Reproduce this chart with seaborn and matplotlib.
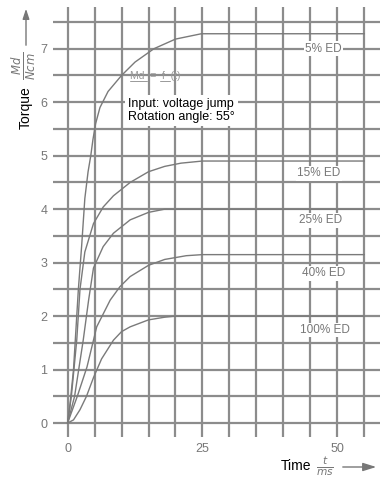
import numpy as np
import pandas as pd
import matplotlib
matplotlib.use("Agg")
import matplotlib.pyplot as plt
import seaborn as sns

# ---- data ----
series_labels = ["5% ED", "15% ED", "25% ED", "40% ED", "100% ED"]

t_5 = [0, 0.4, 1.1, 2.0, 2.6, 3.2, 3.8, 4.3, 4.7, 5.2, 6.0, 7.5, 10, 12.5, 16, 20, 24.8, 55]
y_5 = [0, 0.3, 1.0, 2.5, 3.3, 4.2, 4.7, 5.0, 5.3, 5.6, 5.9, 6.2, 6.5, 6.75, 7.0, 7.18, 7.28, 7.28]

t_15 = [0, 0.7, 1.7, 2.3, 3.2, 4.8, 6.6, 8.5, 11.6, 15, 18, 21, 25, 55]
y_15 = [0, 0.5, 1.55, 2.5, 3.2, 3.73, 4.04, 4.25, 4.5, 4.7, 4.8, 4.86, 4.9, 4.9]

t_25 = [0, 1.3, 2.9, 3.9, 4.8, 6.6, 8.5, 11.6, 15, 18, 55]
y_25 = [0, 0.5, 1.55, 2.3, 2.9, 3.3, 3.55, 3.8, 3.94, 4.0, 4.0]

t_40 = [0, 1.8, 3.6, 5.4, 7.9, 9.7, 11.6, 15, 18, 22, 25, 55]
y_40 = [0, 0.5, 1.05, 1.8, 2.3, 2.55, 2.74, 2.95, 3.06, 3.13, 3.15, 3.15]

t_100 = [0, 1.1, 2.3, 3.5, 4.8, 6.3, 8.5, 10, 11.6, 15, 18, 20, 55]
y_100 = [0, 0.06, 0.25, 0.5, 0.85, 1.2, 1.55, 1.71, 1.8, 1.93, 1.98, 2.0, 2.0]

label_pos_t = [47.4, 46.6, 46.9, 47.4, 47.7]
label_pos_y = [7.0, 4.67, 3.79, 2.8, 1.74]

x_tick_labels = {0: "0", 25: "25", 50: "50"}
y_tick_labels = [0, 1, 2, 3, 4, 5, 6, 7]

# ---- build long-form table ----
frames = []
for name, tt, yy in zip(series_labels, [t_5, t_15, t_25, t_40, t_100],
                        [y_5, y_15, y_25, y_40, y_100]):
    frames.append(pd.DataFrame({"t": tt, "torque": yy, "series": name}))
df = pd.concat(frames, ignore_index=True)

sns.set_theme(style="white")
plt.rcParams["font.family"] = ["Liberation Sans", "DejaVu Sans"]

W, H = 380, 480
fig = plt.figure(figsize=(W / 100, H / 100), dpi=100)
ax = fig.add_axes([53 / W, 1 - 437 / H, (380 - 53) / W, (437 - 7) / H])

grid_col = "#8c8c8c"
curve_col = "#7a7a7a"
text_gray = "#777777"

sns.lineplot(data=df, x="t", y="torque", hue="series", palette=[curve_col] * 5,
             estimator=None, sort=False, legend=False, linewidth=1.0, ax=ax, zorder=3)

ax.set_xlim(-2.7, 57.9)
ax.set_ylim(-0.26, 7.78)
ax.set_xticks(np.arange(0, 56, 5))
ax.set_xticklabels([x_tick_labels.get(int(v), "") for v in np.arange(0, 56, 5)])
yt = np.arange(0, 7.6, 0.5)
ax.set_yticks(yt)
ax.set_yticklabels([str(int(v)) if v in y_tick_labels else "" for v in yt])
ax.tick_params(length=0, labelsize=9, colors=text_gray, pad=4)
ax.grid(True, color=grid_col, linewidth=1.6, zorder=1)
for s in ax.spines.values():
    s.set_visible(False)
ax.set_xlabel("")
ax.set_ylabel("")

for name, lt, ly in zip(series_labels, label_pos_t, label_pos_y):
    ax.text(lt, ly, name, ha="center", va="center", fontsize=8.5, color=text_gray,
            zorder=5, bbox=dict(facecolor="white", edgecolor="none", pad=1.0))

# annotation box
ax.text((128 - 67.5) / 5.4, (423 - 110) / 53.5,
        "Input: voltage jump\nRotation angle: 55°",
        fontsize=9, color="black", ha="left", va="center", linespacing=1.15, zorder=6,
        bbox=dict(facecolor="white", edgecolor="none", pad=2.0))
fig.text(130 / W, 1 - 76 / H, "Md  =  f  (t)", fontsize=7.5, color="#999999",
         ha="left", va="center", zorder=7)
for x0, x1 in [(130, 147), (160, 170)]:
    fig.add_artist(matplotlib.lines.Line2D([x0 / W, x1 / W], [1 - 81 / H, 1 - 81 / H],
                                           transform=fig.transFigure, color="#999999",
                                           linewidth=0.7, zorder=7))

# y-axis label
fig.text(26 / W, 1 - 108 / H, "Torque", rotation=90, ha="center", va="center",
         fontsize=10, color="black")
fig.text(24 / W, 1 - 66 / H, r"$\frac{Md}{Ncm}$", rotation=90, ha="center", va="center",
         fontsize=12, color=text_gray)
fig.add_artist(matplotlib.patches.FancyArrowPatch(
    (26 / W, 1 - 48 / H), (26 / W, 1 - 6 / H), transform=fig.transFigure,
    arrowstyle="-|>,head_length=6,head_width=2", color=text_gray, linewidth=1.0,
    mutation_scale=1))

# x-axis label
fig.text(296 / W, 1 - 466 / H, "Time", ha="center", va="center", fontsize=10, color="black")
fig.text(325 / W, 1 - 466 / H, r"$\frac{t}{ms}$", ha="center", va="center",
         fontsize=11, color=text_gray)
fig.add_artist(matplotlib.patches.FancyArrowPatch(
    (340 / W, 1 - 467 / H), (379 / W, 1 - 467 / H), transform=fig.transFigure,
    arrowstyle="-|>,head_length=8,head_width=2.5", color=text_gray, linewidth=1.0,
    mutation_scale=1))

fig.savefig("out.png", dpi=100)
